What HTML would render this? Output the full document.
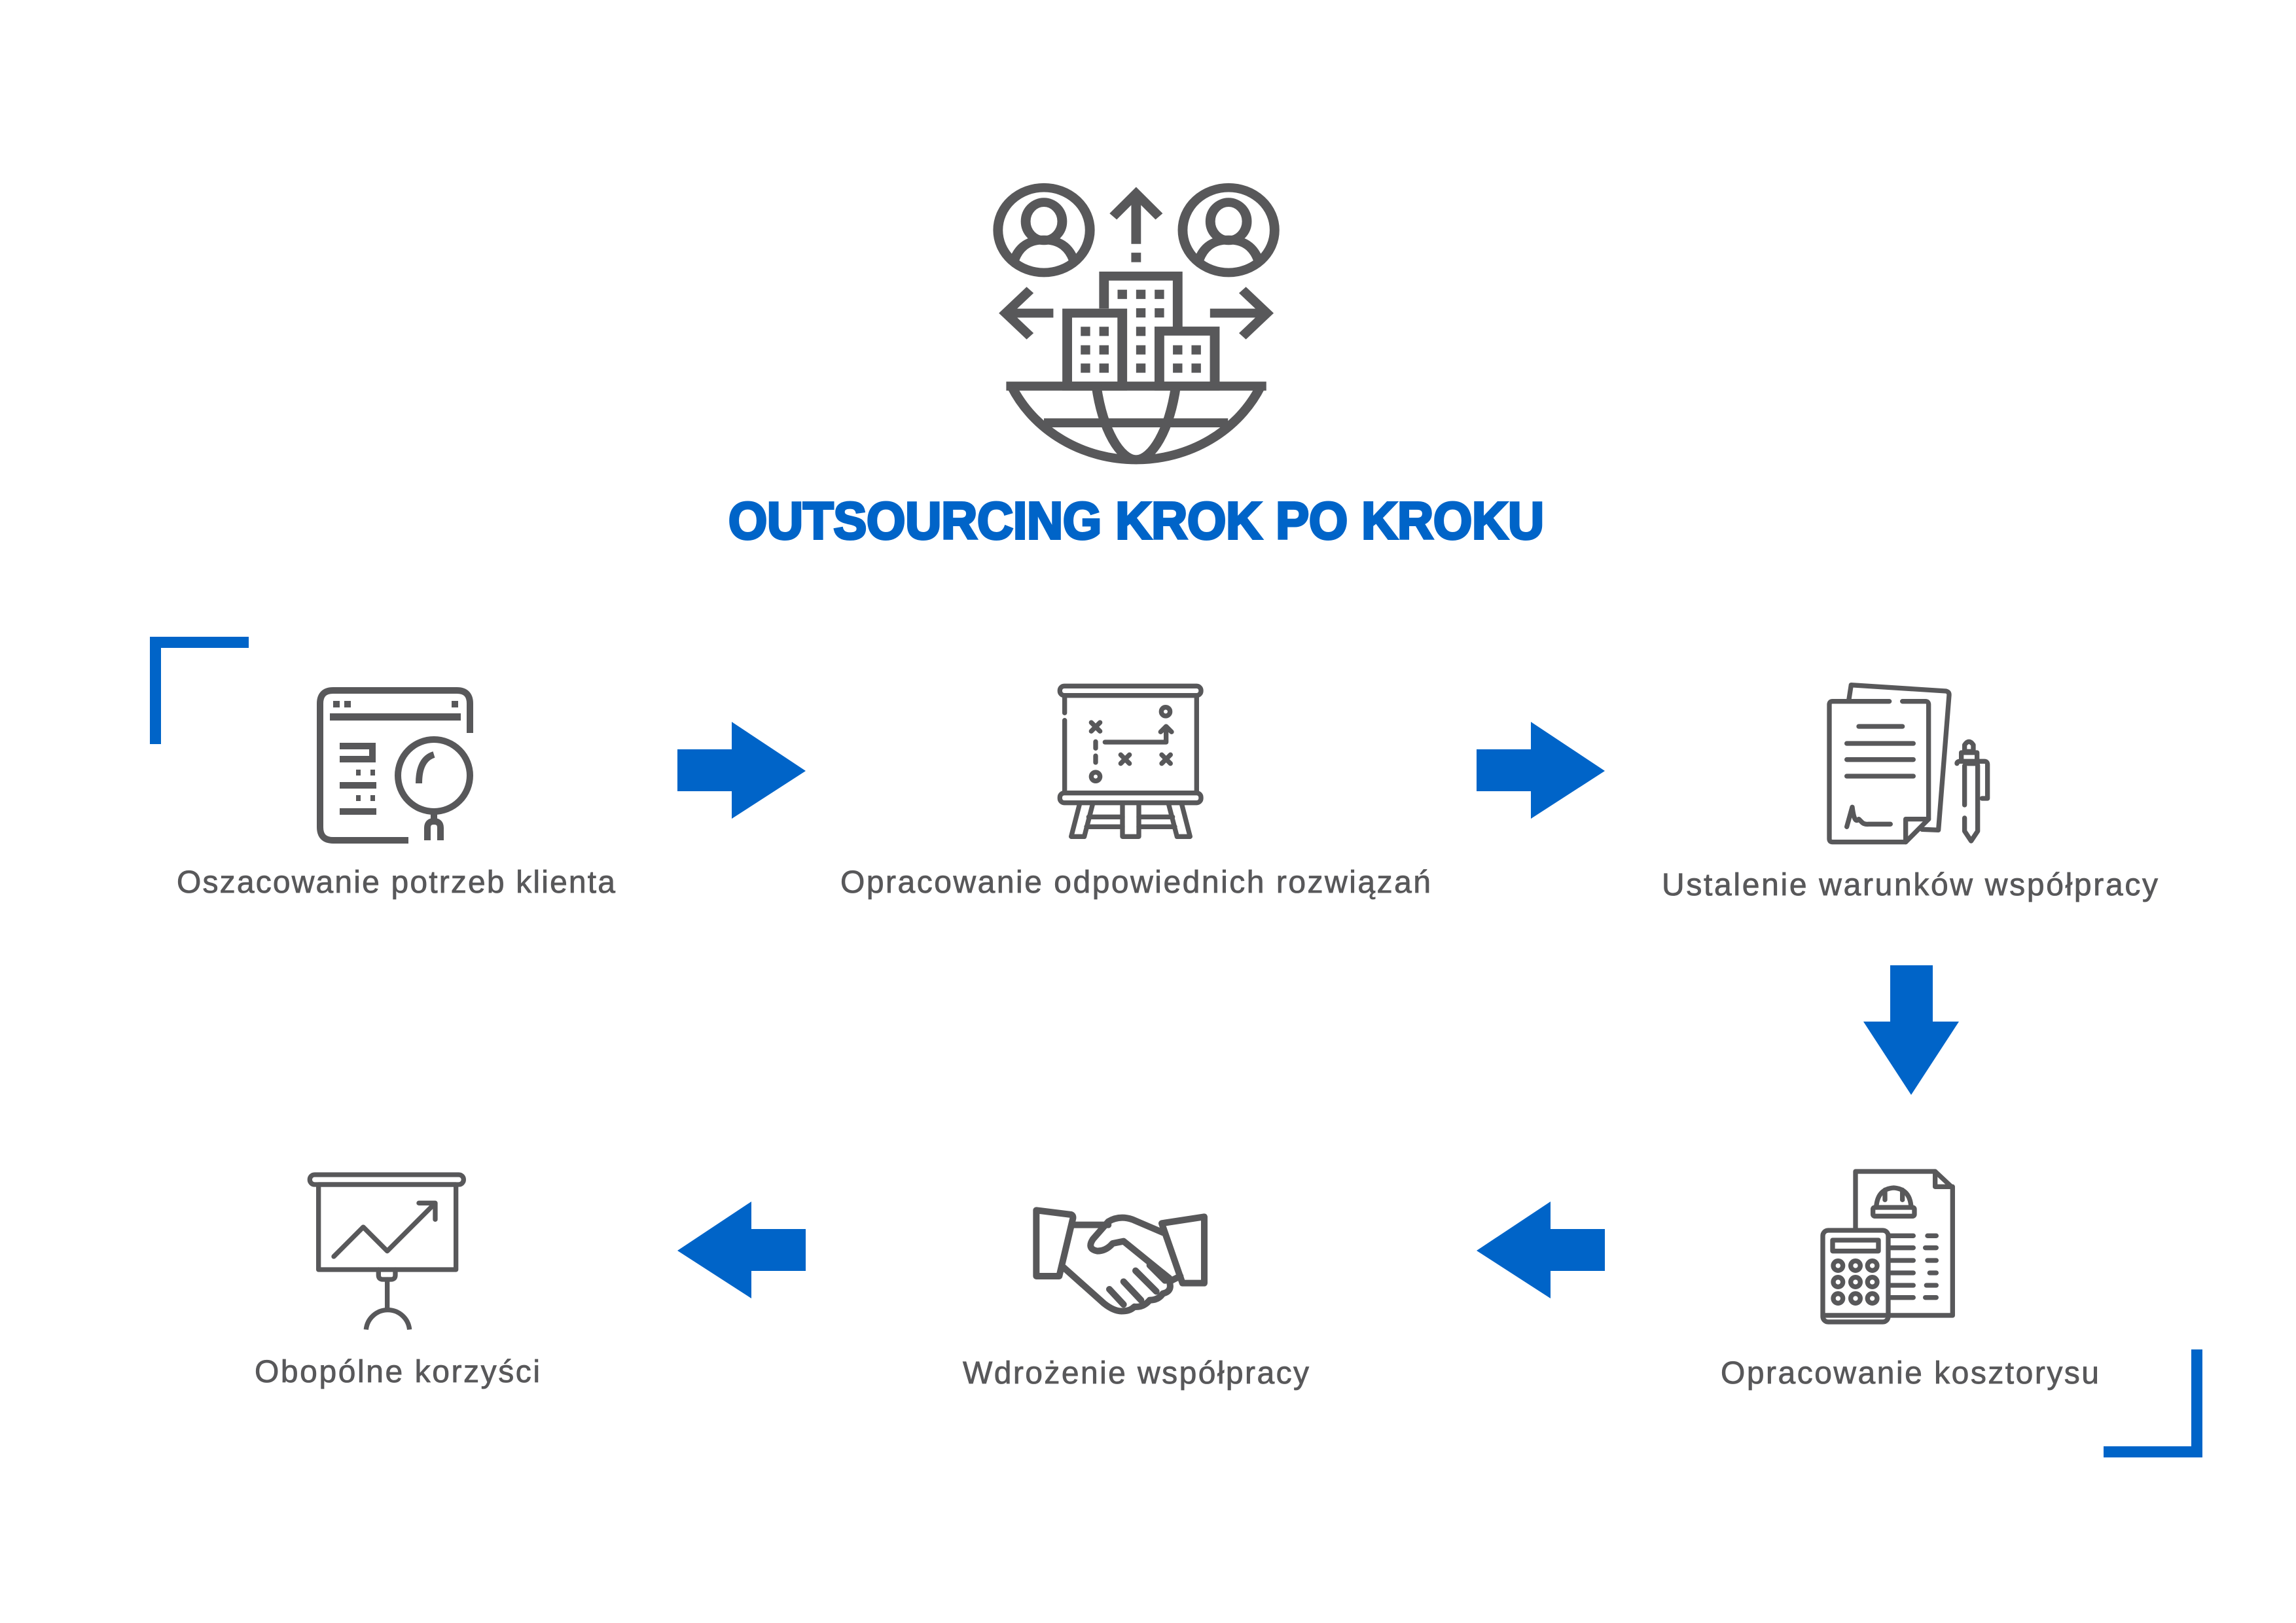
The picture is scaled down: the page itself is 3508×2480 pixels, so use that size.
<!DOCTYPE html>
<html><head><meta charset="utf-8"><style>html,body{margin:0;padding:0;background:#fff}svg{display:block}</style></head>
<body>
<svg width="3508" height="2480" viewBox="0 0 3508 2480" xmlns="http://www.w3.org/2000/svg">
<rect width="3508" height="2480" fill="#fff"/>

<!-- main icon -->
<g transform="translate(1406,201) scale(0.45,0.416)" fill="none" stroke="#58585a" stroke-width="33">
  <circle cx="420" cy="362" r="156"/>
  <ellipse cx="420" cy="330" rx="62" ry="70"/>
  <path d="M320,470 Q345,398 420,398 Q495,398 520,470"/>
  <circle cx="1047" cy="362" r="156"/>
  <ellipse cx="1047" cy="330" rx="62" ry="70"/>
  <path d="M947,470 Q972,398 1047,398 Q1122,398 1147,470"/>
  <path d="M733,230 V413 M733,445 V480"/>
  <path d="M655,312 L733,228 L811,312"/>
  <path d="M452,667 H300 M373,582 L290,667 L373,752"/>
  <path d="M984,667 H1160 M1094,582 L1177,667 L1094,752"/>
  <path d="M624,650 V531 H874 V733"/>
  <rect x="499" y="667" width="187" height="268"/>
  <rect x="812" y="733" width="188" height="202"/>
  <path d="M292,935 H1175"/>
  <path d="M310,935 A466,466 0 0 0 1156,935"/>
  <path d="M420,1070 H1045"/>
  <path d="M598,935 C620,1100 680,1205 733,1205 C786,1205 846,1100 868,935"/>
  <g fill="#58585a" stroke="none">
    <rect x="670" y="581" width="32" height="34"/><rect x="733" y="581" width="32" height="34"/><rect x="796" y="581" width="32" height="34"/>
    <rect x="733" y="649" width="32" height="34"/><rect x="796" y="649" width="32" height="34"/>
    <rect x="733" y="717" width="32" height="34"/><rect x="733" y="785" width="32" height="34"/><rect x="733" y="852" width="32" height="34"/>
    <rect x="545" y="717" width="32" height="34"/><rect x="608" y="717" width="32" height="34"/>
    <rect x="545" y="785" width="32" height="34"/><rect x="608" y="785" width="32" height="34"/>
    <rect x="545" y="852" width="32" height="34"/><rect x="608" y="852" width="32" height="34"/>
    <rect x="858" y="785" width="32" height="34"/><rect x="921" y="785" width="32" height="34"/>
    <rect x="858" y="852" width="32" height="34"/><rect x="921" y="852" width="32" height="34"/>
  </g>
</g>

<text x="1113" y="823" font-family="Liberation Sans, sans-serif" font-weight="bold" font-size="80" fill="#0064c8" stroke="#0064c8" stroke-width="4" textLength="1246" lengthAdjust="spacingAndGlyphs">OUTSOURCING KROK PO KROKU</text>

<!-- brackets -->
<g fill="#0064c8">
  <rect x="229" y="973" width="151" height="17"/>
  <rect x="229" y="973" width="17" height="164"/>
  <rect x="3214" y="2210" width="151" height="17"/>
  <rect x="3348" y="2062" width="17" height="165"/>
</g>

<!-- arrows -->
<g fill="#0064c8">
  <path d="M1035,1145 H1118 V1103 L1231,1178 L1118,1251 V1209 H1035 Z"/>
  <path d="M2256,1145 H2339 V1103 L2452,1178 L2339,1251 V1209 H2256 Z"/>
  <path d="M2888,1475 H2953 V1561 H2993 L2920,1673 L2847,1561 H2888 Z"/>
  <path d="M1231,1878 H1148 V1836 L1035,1911 L1148,1984 V1942 H1231 Z"/>
  <path d="M2452,1878 H2369 V1836 L2256,1911 L2369,1984 V1942 H2452 Z"/>
</g>

<!-- icon 1 -->
<g fill="none" stroke="#58585a" stroke-width="10">
  <path d="M718,1120 V1075 Q718,1055 698,1055 H509 Q489,1055 489,1075 V1264 Q489,1284 509,1284 H624"/>
  <circle cx="663" cy="1185" r="55"/>
  <path d="M640,1197 Q640,1160 663,1153"/>
  <path d="M663,1240 V1255 M653,1284 V1265 Q653,1255 663,1255 Q673,1255 673,1265 V1284"/>
  <path d="M519,1140 H569 V1160 H519"/>
  <path d="M519,1200 H575 M519,1240 H575"/>
</g>
<g fill="#58585a">
  <rect x="509" y="1071" width="10" height="10"/><rect x="526" y="1071" width="10" height="10"/><rect x="690" y="1071" width="10" height="10"/>
  <rect x="504" y="1090" width="200" height="11"/>
  <rect x="544" y="1176" width="7" height="9"/><rect x="566" y="1176" width="7" height="9"/>
  <rect x="544" y="1215" width="7" height="9"/><rect x="566" y="1215" width="7" height="9"/>
</g>

<!-- icon 2 -->
<g transform="translate(1600,1030) scale(0.3333)" fill="none" stroke="#58585a" stroke-width="22" stroke-linecap="round" stroke-linejoin="round">
  <rect x="58" y="55" width="647" height="43" rx="20"/>
  <path d="M80,98 V178 M80,212 V540 M685,98 V540"/>
  <rect x="58" y="545" width="647" height="45" rx="20"/>
  <path d="M150,590 L110,745 H170 L210,590"/>
  <path d="M615,590 L655,745 H595 L555,590"/>
  <path d="M345,590 V745 H420 V590"/>
  <path d="M190,655 H345 M420,655 H575 M180,700 H345 M420,700 H585"/>
  <path d="M202,222 L242,262 M242,222 L202,262"/>
  <path d="M337,370 L377,410 M377,370 L337,410"/>
  <path d="M525,370 L565,410 M565,370 L525,410"/>
  <circle cx="543" cy="172" r="20"/><circle cx="222" cy="470" r="20"/>
  <path d="M222,310 V340 M222,375 V405"/>
  <path d="M265,312 H545 V245 M520,265 L545,240 L570,265"/>
</g>

<!-- icon 3 -->
<g transform="translate(2780,1030) scale(0.3333)" fill="none" stroke="#58585a" stroke-width="22" stroke-linecap="round" stroke-linejoin="round">
  <path d="M135,115 L145,50 L580,78 Q595,82 594,97 L545,715 L470,712"/>
  <path d="M320,125 H60 Q45,125 45,140 V755 Q45,770 60,770 H395 L500,665 V140 Q500,125 485,125 H380"/>
  <path d="M395,770 V665 H500"/>
  <path d="M180,240 H380 M125,318 H430 M125,392 H430 M125,468 H430"/>
  <path d="M125,700 L150,610 Q160,690 180,665 L195,680 Q205,690 225,688 H325"/>
  <path d="M665,355 V325 Q685,295 705,325 V355 Z"/>
  <path d="M650,400 V360 H722 V400"/>
  <path d="M630,410 Q630,400 645,400 H755 Q770,400 770,415 V570 H745"/>
  <path d="M665,420 V600 M665,660 V720 L695,765 L725,720 V420 Q725,410 715,410 H680"/>
</g>

<!-- icon 6 -->
<g transform="translate(2770,1780) scale(0.3333)" fill="none" stroke="#58585a" stroke-width="22" stroke-linecap="round" stroke-linejoin="round">
  <path d="M195,290 V30 H560 L640,105 V690 H350"/>
  <path d="M560,30 V100 H640"/>
  <rect x="275" y="195" width="190" height="40" rx="8"/>
  <path d="M290,195 Q295,110 370,105 Q445,110 450,195"/>
  <path d="M330,115 V160 M410,115 V160"/>
  <path d="M355,325 H460 M525,325 H565 M355,380 H460 M515,380 H565 M355,438 H460 M525,438 H565 M355,495 H460 M535,495 H565 M355,552 H460 M520,552 H565 M355,608 H460 M515,608 H565"/>
  <rect x="45" y="300" width="300" height="420" rx="25"/>
  <rect x="90" y="345" width="210" height="50"/>
  <path d="M50,690 H340"/>
  <circle cx="115" cy="462" r="22"/><circle cx="195" cy="462" r="22"/><circle cx="272" cy="462" r="22"/>
  <circle cx="115" cy="537" r="22"/><circle cx="195" cy="537" r="22"/><circle cx="272" cy="537" r="22"/>
  <circle cx="115" cy="612" r="22"/><circle cx="195" cy="612" r="22"/><circle cx="272" cy="612" r="22"/>
</g>

<!-- icon 5 handshake -->
<g transform="translate(1570,1840) scale(0.3333)" fill="none" stroke="#58585a" stroke-width="30" stroke-linecap="round" stroke-linejoin="round">
  <path d="M40,28 L200,48 Q210,52 208,65 L145,330 H40 Z"/>
  <path d="M615,88 L810,58 V362 H710 Z"/>
  <path d="M210,95 H370"/>
  <path d="M620,130 L480,70 Q420,50 370,80 L300,160 Q270,205 320,215 Q360,215 390,180 L440,170 L650,340"/>
  <path d="M165,290 L350,455 Q400,495 440,490 Q470,490 490,470 Q530,475 560,440 Q600,440 620,410 Q665,400 650,355 L700,330"/>
  <path d="M375,390 L440,460 M440,355 L520,440 M495,305 L590,400 M560,280 L630,350"/>
</g>

<!-- icon 4 chart -->
<g transform="translate(460,1780) scale(0.3333)" fill="none" stroke="#58585a" stroke-width="22" stroke-linecap="round" stroke-linejoin="round">
  <rect x="40" y="45" width="705" height="45" rx="22"/>
  <rect x="80" y="90" width="630" height="390"/>
  <path d="M150,420 L285,285 L395,395 L610,180"/>
  <path d="M540,175 H615 V250"/>
  <path d="M355,480 V505 Q355,525 375,525 H412 Q432,525 432,505 V480"/>
  <path d="M395,525 V655"/>
  <path d="M298,755 A100,100 0 0 1 497,755" stroke-linecap="butt"/>
</g>

<!-- labels -->
<g font-family="Liberation Sans, sans-serif" font-size="48" fill="#58585a" stroke="#58585a" stroke-width="0.8" lengthAdjust="spacingAndGlyphs">
  <text x="270" y="1364" textLength="670">Oszacowanie potrzeb klienta</text>
  <text x="1284" y="1364" textLength="902">Opracowanie odpowiednich rozwiązań</text>
  <text x="2539" y="1368" textLength="758">Ustalenie warunków współpracy</text>
  <text x="389" y="2112" textLength="436">Obopólne korzyści</text>
  <text x="1471" y="2114" textLength="529">Wdrożenie współpracy</text>
  <text x="2629" y="2114" textLength="578">Opracowanie kosztorysu</text>
</g>
</svg>
</body></html>
